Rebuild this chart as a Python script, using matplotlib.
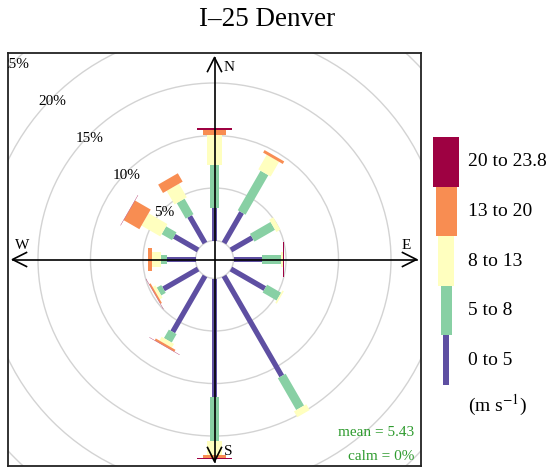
import numpy as np
import matplotlib
matplotlib.use("Agg")
import matplotlib.pyplot as plt
from matplotlib.patches import Polygon, Circle, Rectangle

plt.rcParams['font.family'] = ['Liberation Serif', 'DejaVu Serif']
plt.rcParams['mathtext.fontset'] = 'stix'

# ---------------- data ----------------
title = "I\u201325 Denver"
directions = [0, 30, 60, 90, 120, 150, 180, 210, 240, 270, 300, 330]
speed_labels = ["0 to 5", "5 to 8", "8 to 13", "13 to 20", "20 to 23.8"]
colours = ["#5E4FA2", "#88D0A4", "#FFFFBF", "#F88D52", "#9E0142"]
# frequency (%) of each speed bin, per direction
bin_0_5 = [3.14, 3.36, 2.34, 2.73, 3.73, 11.0, 11.27, 6.15, 3.80, 2.70, 2.62, 2.93]
bin_5_8 = [4.03, 4.35, 2.26, 1.84, 1.54, 3.50, 4.25, 0.93, 0.50, 0.63, 1.14, 1.71]
bin_8_13 = [2.86, 1.61, 0.45, 0.10, 0.16, 0.64, 1.28, 0.42, 0.30, 0.79, 2.07, 1.49]
bin_13_20 = [0.47, 0.28, 0.00, 0.02, 0.00, 0.00, 0.30, 0.20, 0.15, 0.38, 1.72, 0.92]
bin_20_plus = [0.17, 0.00, 0.00, 0.08, 0.00, 0.00, 0.10, 0.03, 0.03, 0.07, 0.03, 0.00]
grid_levels = [5, 10, 15, 20, 25, 30]
mean_text = "mean = 5.43"
calm_text = "calm = 0%"
units_text = r"(m s$^{-1}$)"

# ---------------- geometry ----------------
px = 10.5                 # pixels per percent
off = 19 / px             # calm-circle offset
lim = 206.5 / px
mx = 202 / px
paddle_w = [5.3 / px, 9 / px, 14.3 / px, 22.7 / px, 35 / px]

fig = plt.figure(figsize=(5.51, 4.69), dpi=100)
ax = fig.add_axes([8 / 551, 3 / 469, 413 / 551, 413 / 469])
ax.set_xlim(-lim, lim)
ax.set_ylim(-lim, lim)
ax.set_aspect('equal')
ax.set_xticks([])
ax.set_yticks([])
for s in ax.spines.values():
    s.set_linewidth(1.3)
    s.set_color('#222222')

# grid circles
for g in grid_levels:
    ax.add_patch(Circle((0, 0), off + g, fill=False, ec='#d3d3d3', lw=1.0, zorder=1))
    a = np.deg2rad(135)
    t = ax.text((off + g) * np.cos(a), (off + g) * np.sin(a) - 4 / px, f"{g}%",
                ha='center', va='center', fontsize=11, zorder=5)
    t.set_clip_on(True)
ax.add_patch(Circle((0, 0), off, fill=False, ec='#d3d3d3', lw=1.0, zorder=1))

# paddles
bins = [bin_0_5, bin_5_8, bin_8_13, bin_13_20, bin_20_plus]
for j, d in enumerate(directions):
    th = np.deg2rad(d)
    u = np.array([np.sin(th), np.cos(th)])
    p = np.array([np.cos(th), -np.sin(th)])
    cum = 0.0
    for i in range(5):
        v = bins[i][j]
        if v <= 0:
            continue
        r1, r2 = off + cum, off + cum + v
        w = paddle_w[i] / 2
        pts = [r1 * u - w * p, r1 * u + w * p, r2 * u + w * p, r2 * u - w * p]
        ax.add_patch(Polygon(pts, closed=True, fc=colours[i], ec='none', zorder=3))
        cum += v

# axes arrows
ax.plot([-mx, mx], [0, 0], color='black', lw=1.2, zorder=4)
ax.plot([0, 0], [-mx, mx], color='black', lw=1.2, zorder=4)
hl, hw = 14 / px, 7 / px
for (ux, uy) in [(1, 0), (-1, 0), (0, 1), (0, -1)]:
    tip = np.array([ux, uy]) * mx
    back = np.array([ux, uy]) * (mx - hl)
    perp = np.array([-uy, ux]) * hw
    ax.plot([back[0] + perp[0], tip[0], back[0] - perp[0]],
            [back[1] + perp[1], tip[1], back[1] - perp[1]], color='black', lw=1.2, zorder=4)
for lab, (x, y) in zip(["N", "E", "S", "W"],
                       [(0.07 * mx, 0.95 * mx), (0.95 * mx, 0.07 * mx),
                        (0.07 * mx, -0.95 * mx), (-0.95 * mx, 0.07 * mx)]):
    ax.text(x, y, lab, ha='center', va='center', fontsize=11, zorder=6)

ax.text(0.983, 0.080, mean_text, transform=ax.transAxes, ha='right', va='center',
        fontsize=11, color='#2E9B2E')
ax.text(0.983, 0.022, calm_text, transform=ax.transAxes, ha='right', va='center',
        fontsize=11, color='#2E9B2E')

fig.text(267.5 / 551, 1 - 20 / 469, title, ha='center', va='center', fontsize=19.5)

# legend key
lax = fig.add_axes([0, 0, 1, 1])
lax.set_xlim(0, 551)
lax.set_ylim(469, 0)
lax.axis('off')
key_w = [6, 11, 16, 21, 26]
key_top = 137
key_h = 49.6
for k in range(5):
    i = 4 - k
    y0 = key_top + k * key_h
    lax.add_patch(Rectangle((446 - key_w[i] / 2, y0), key_w[i], key_h, fc=colours[i], ec='none'))
    lax.text(468, y0 + key_h / 2, speed_labels[i], ha='left', va='center', fontsize=14)
lax.text(468, 405, units_text, ha='left', va='center', fontsize=14)

fig.savefig("out.png", dpi=100)
